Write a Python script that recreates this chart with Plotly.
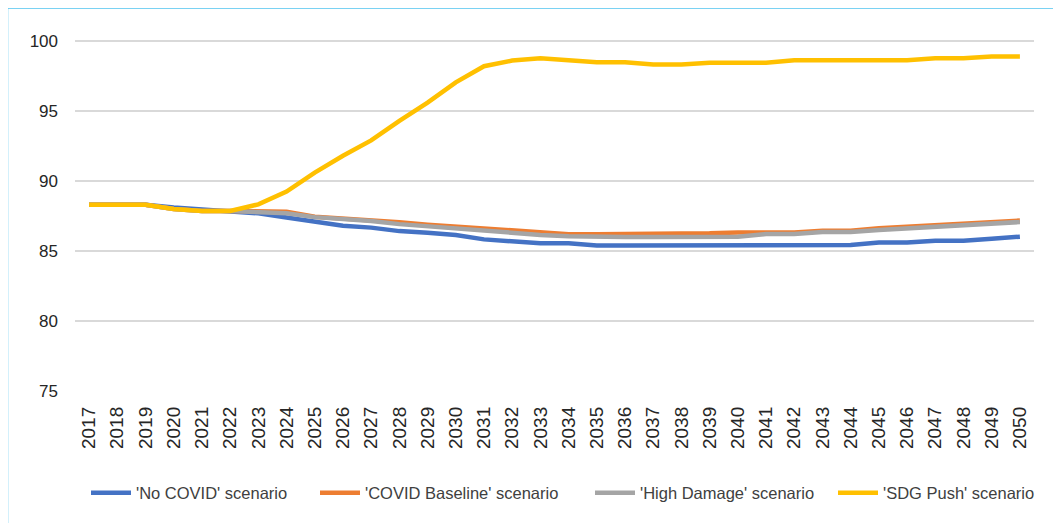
import plotly.graph_objects as go

years = [str(y) for y in range(2017, 2051)]

no_covid = [88.3, 88.3, 88.3, 88.1, 87.98, 87.86, 87.69, 87.4, 87.1, 86.81, 86.67, 86.42,
            86.31, 86.14, 85.83, 85.69, 85.55, 85.55, 85.4, 85.4, 85.4, 85.4, 85.43, 85.43,
            85.43, 85.43, 85.43, 85.43, 85.6, 85.6, 85.74, 85.74, 85.88, 86.02]
covid_baseline = [88.3, 88.3, 88.3, 88.0, 87.86, 87.86, 87.81, 87.8, 87.45, 87.33, 87.21, 87.05,
                  86.88, 86.74, 86.6, 86.45, 86.33, 86.2, 86.2, 86.2, 86.2, 86.2, 86.26, 86.33,
                  86.33, 86.33, 86.45, 86.45, 86.62, 86.74, 86.79, 86.93, 87.05, 87.17]
high_damage = [88.3, 88.3, 88.3, 88.0, 87.86, 87.86, 87.78, 87.7, 87.42, 87.3, 87.15, 86.92,
               86.76, 86.6, 86.45, 86.3, 86.15, 86.05, 86.0, 86.0, 86.0, 86.0, 86.02, 86.02,
               86.21, 86.21, 86.36, 86.36, 86.5, 86.6, 86.7, 86.83, 86.98, 87.07]
sdg_push = [88.3, 88.3, 88.3, 88.0, 87.86, 87.86, 88.33, 89.24, 90.6, 91.8, 92.9, 94.3,
            95.6, 97.05, 98.2, 98.6, 98.76, 98.62, 98.48, 98.48, 98.33, 98.33, 98.45, 98.45,
            98.45, 98.62, 98.62, 98.62, 98.62, 98.62, 98.76, 98.76, 98.9, 98.9]

names = ["'No COVID' scenario", "'COVID Baseline' scenario",
         "'High Damage' scenario", "'SDG Push' scenario"]
colors = ["#4472C4", "#ED7D31", "#A5A5A5", "#FFC000"]
values = [no_covid, covid_baseline, high_damage, sdg_push]

# figure geometry (page body adds an 8px offset)
W, H = 1053, 515
L, R, T, B = 67, 27, 12, 132
PW = W - L - R
PH = H - T - B

legend_ids = ["legend", "legend2", "legend3", "legend4"]
legend_left_px = [92, 321, 596, 839]  # window px where each legend line starts

fig = go.Figure()
for name, vals, color, lid in zip(names, values, colors, legend_ids):
    fig.add_trace(go.Scatter(x=years, y=vals, name=name, mode="lines", legend=lid,
                             line=dict(color=color, width=4.5)))

legend_common = dict(orientation="h", xanchor="left", yanchor="middle",
                     y=(PH - (493 - 8 - T)) / PH,
                     font=dict(size=16.5, color="#404040"), itemwidth=40,
                     bgcolor="rgba(0,0,0,0)", borderwidth=0)
leg_layout = {}
for lid, px in zip(legend_ids, legend_left_px):
    leg_layout[lid] = dict(legend_common, x=(px - 8 - L - 6) / PW)

fig.update_layout(
    width=W, height=H,
    margin=dict(l=L, r=R, t=T, b=B),
    paper_bgcolor="white", plot_bgcolor="white",
    font=dict(family="Liberation Sans, Arial, sans-serif", color="#262626"),
    showlegend=True,
    xaxis=dict(type="category", tickangle=-90, showgrid=False, showline=False, ticks="",
               tickfont=dict(size=19, color="#262626"), ticklabelstandoff=11,
               range=[-0.5, len(years) - 0.5]),
    yaxis=dict(range=[75, 75 + PH / 14], tickvals=[75, 80, 85, 90, 95, 100],
               showgrid=True, gridcolor="#D9D9D9", gridwidth=2, zeroline=False,
               showline=False, ticks="", tickfont=dict(size=17, color="#262626"),
               ticklabelstandoff=16),
    shapes=[dict(type="rect", xref="paper", yref="paper",
                 x0=(7.5 - 8 - L) / PW, x1=1.3, y0=-1.0, y1=(PH - (8 - 8 - T)) / PH,
                 line=dict(color="#4FC3F0", width=1.5), fillcolor="rgba(0,0,0,0)",
                 layer="below")],
    **leg_layout,
)

fig.write_html("out.html")
